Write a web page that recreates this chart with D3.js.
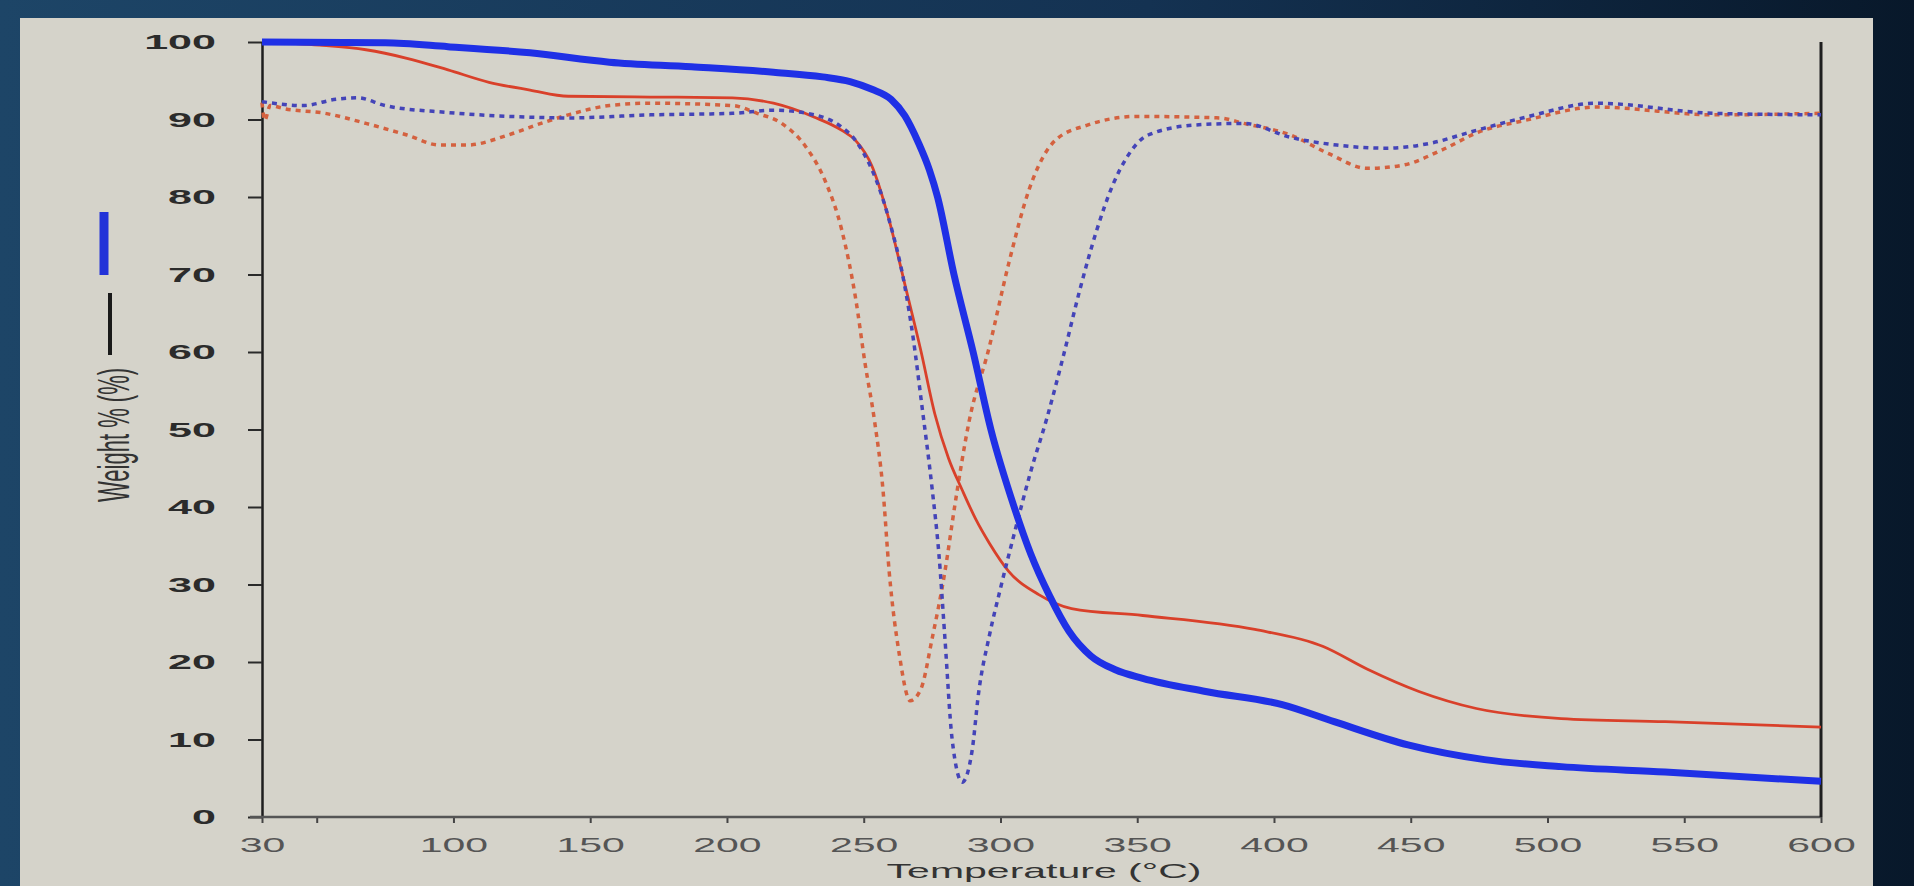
<!DOCTYPE html>
<html>
<head>
    <meta charset="utf-8">
    <title>TGA - Weight %</title>
    <style type="text/css">
        html, body {
            margin: 0;
            padding: 0;
            background: #0e2238;
        }
        svg text {
            font-family: "Liberation Sans", Arial, sans-serif;
        }
    </style>
</head>
<body>
<div id="chart"></div>

<script src="https://cdnjs.cloudflare.com/ajax/libs/d3/7.8.5/d3.min.js"></script>
<script type="text/javascript">
    // tick labels
    var xTicks = [30, 50, 100, 150, 200, 250, 300, 350, 400, 450, 500, 550, 600];
    var yTicks = [0, 10, 20, 30, 40, 50, 60, 70, 80, 90, 100];

    // weight % curves, [temperature, weight]
    var weightBlue = [[30, 100], [75, 99.9], [98, 99.4], [128, 98.6], [157, 97.4], [187, 96.8], [217, 96.1],
        [235, 95.5], [245, 94.9], [253, 93.9], [260, 92.6], [265, 90.5], [270, 87], [274, 83.5],
        [277, 80], [283, 70], [290, 60], [296.5, 50], [305, 40], [311, 34], [318, 28.5], [325, 24],
        [333, 20.8], [342, 19], [352, 17.9], [375, 16.2], [403, 14.5], [422, 12.3], [449, 9.3],
        [477, 7.4], [505, 6.5], [543, 5.8], [600, 4.6]];

    var weightRed = [[30, 100], [51, 99.6], [68, 99], [83, 97.9], [98, 96.4], [113, 94.8], [128, 93.8],
        [142, 93], [172, 92.9], [202, 92.8], [217, 92.1], [232, 90.3], [242, 88.6], [247, 87.3],
        [253, 84], [259, 77.4], [265, 68.8], [271, 60], [276, 52], [281, 46.3], [286, 42.2],
        [291, 38.4], [296, 35.3], [303, 31.7], [314, 28.7], [326, 26.9], [352, 26], [393, 24.2],
        [418, 22], [434, 19.1], [453, 16.2], [474, 14], [505, 12.7], [543, 12.3], [600, 11.6]];

    // derivative curves (dotted)
    var derivRed = [[30, 92.2], [31, 89.9], [33, 91.8], [38, 91.4], [53, 90.8], [68, 89.5], [83, 88],
        [95, 86.7], [105, 86.7], [120, 88], [132, 89.5], [142, 90.6], [157, 91.8], [172, 92.1],
        [202, 91.8], [211, 90.8], [220, 89.5], [229, 86.4], [236, 82], [242, 75.7], [247, 67],
        [250.5, 58.5], [254, 51], [257, 42.4], [259.3, 31.7], [263, 21], [267, 15], [271, 16.6],
        [275, 23], [279.7, 31.7], [283.4, 40.4], [288.5, 51], [295.8, 60.5], [303, 71.4],
        [310.4, 80.9], [320, 87.3], [332, 89.3], [350, 90.4], [380, 90.2], [389, 89.5], [406, 88],
        [420, 85.6], [434, 83.7], [447, 84.1], [461, 86], [475, 88.4], [492, 89.9], [518, 91.6],
        [561, 90.6], [600, 90.8]];

    var derivBlue = [[30, 92.3], [45, 91.8], [57, 92.6], [65, 92.8], [75, 91.8], [98, 90.9], [128, 90.3],
        [142, 90.2], [172, 90.6], [202, 90.8], [217, 91.2], [232, 90.6], [242, 89], [247, 87.3],
        [259, 77.4], [265, 68.5], [268, 62], [271.3, 53], [275, 42.4], [277.5, 33.9], [279.7, 23],
        [282.3, 10.1], [286, 4.5], [289.6, 8.5], [292, 16], [296, 23.5], [300, 29.5], [305, 36.5],
        [311, 44.5], [317, 51.5], [323, 59.5], [329, 68], [335, 75.5], [341, 81.5], [346, 85],
        [354, 88], [371.5, 89.3], [389, 89.5], [406, 87.7], [423, 86.7], [440.6, 86.3], [458, 87],
        [472, 88.4], [492, 90.3], [518, 92.1], [561, 90.8], [600, 90.6]];

    var W = 1914, H = 886;
    var textStretch = 2.05;   // the screen text is drawn very wide

    var svg = d3.select('#chart')
        .append('svg')
        .attr('width', W)
        .attr('height', H);

    // dark backdrop and light plot panel
    var bg = svg.append('defs').append('linearGradient')
        .attr('id', 'bg')
        .attr('x1', 0).attr('x2', 1).attr('y1', 0).attr('y2', 0);
    bg.append('stop').attr('offset', '0%').attr('stop-color', '#1d4567');
    bg.append('stop').attr('offset', '60%').attr('stop-color', '#143252');
    bg.append('stop').attr('offset', '100%').attr('stop-color', '#08182a');

    svg.append('rect')
        .attr('width', W).attr('height', H)
        .attr('fill', 'url(#bg)');

    svg.append('rect')
        .attr('x', 20).attr('y', 18)
        .attr('width', 1853).attr('height', H - 18)
        .attr('fill', '#d5d3ca');

    var x = d3.scaleLinear().domain([30, 600]).range([262, 1821]);
    var y = d3.scaleLinear().domain([0, 100]).range([817, 42]);

    // y axis
    var yAxis = svg.append('g')
        .attr('transform', 'translate(' + x(30) + ',0)')
        .call(d3.axisLeft(y).tickValues(yTicks).tickSize(14).tickSizeOuter(0));
    yAxis.select('.domain').attr('stroke', '#1e1e1e').attr('stroke-width', 2.5);
    yAxis.selectAll('.tick line').attr('stroke', '#2a2a2a').attr('stroke-width', 2);
    yAxis.selectAll('.tick text')
        .attr('x', -46 / textStretch)
        .attr('transform', 'scale(' + textStretch + ',1)')
        .attr('fill', '#2b2b2b')
        .style('font-size', '21px')
        .style('font-weight', 'bold');

    // x axis
    var xAxis = svg.append('g')
        .attr('transform', 'translate(0,' + y(0) + ')')
        .call(d3.axisBottom(x).tickValues(xTicks).tickSize(6).tickSizeOuter(0)
            .tickFormat(function (d) {
                return d === 50 ? '' : d;
            }));
    xAxis.select('.domain').remove();
    xAxis.selectAll('.tick line').attr('stroke', '#444').attr('stroke-width', 2);
    xAxis.selectAll('.tick text')
        .attr('y', 21)
        .attr('transform', 'scale(' + textStretch + ',1)')
        .attr('fill', '#555')
        .style('font-size', '20px');

    svg.append('line')
        .attr('x1', x(30) - 12).attr('x2', x(600))
        .attr('y1', y(0)).attr('y2', y(0))
        .attr('stroke', '#555').attr('stroke-width', 2.5);

    // right border
    svg.append('line')
        .attr('x1', x(600)).attr('x2', x(600))
        .attr('y1', y(100)).attr('y2', y(0))
        .attr('stroke', '#1e1e1e').attr('stroke-width', 3);

    // axis titles
    svg.append('text')
        .attr('transform', 'translate(1044,878) scale(' + textStretch + ',1)')
        .attr('text-anchor', 'middle')
        .attr('fill', '#333')
        .style('font-size', '20px')
        .text('Temperature (°C)');

    svg.append('text')
        .attr('transform', 'translate(129,502) scale(' + textStretch + ',1) rotate(-90)')
        .attr('text-anchor', 'start')
        .attr('fill', '#333')
        .style('font-size', '22px')
        .text('Weight % (%)');

    // line samples next to the y title
    svg.append('line')
        .attr('x1', 110).attr('x2', 110)
        .attr('y1', 293).attr('y2', 355)
        .attr('stroke', '#1a1a1a').attr('stroke-width', 4);
    svg.append('line')
        .attr('x1', 104).attr('x2', 104)
        .attr('y1', 212).attr('y2', 275)
        .attr('stroke', '#2232d8').attr('stroke-width', 9);

    // curves
    var line = d3.line()
        .x(function (d) { return x(d[0]); })
        .y(function (d) { return y(d[1]); })
        .curve(d3.curveMonotoneX);

    var plot = svg.append('g').attr('fill', 'none').attr('stroke-linejoin', 'round');

    plot.append('path')
        .attr('d', line(derivRed))
        .attr('stroke', '#d4613f')
        .attr('stroke-width', 3.5)
        .attr('stroke-dasharray', '5,5');

    plot.append('path')
        .attr('d', line(weightRed))
        .attr('stroke', '#d9402a')
        .attr('stroke-width', 2.8);

    plot.append('path')
        .attr('d', line(derivBlue))
        .attr('stroke', '#4444b8')
        .attr('stroke-width', 3.5)
        .attr('stroke-dasharray', '5,5');

    plot.append('path')
        .attr('d', line(weightBlue))
        .attr('stroke', '#1f30e6')
        .attr('stroke-width', 7);
</script>
</body>
</html>
